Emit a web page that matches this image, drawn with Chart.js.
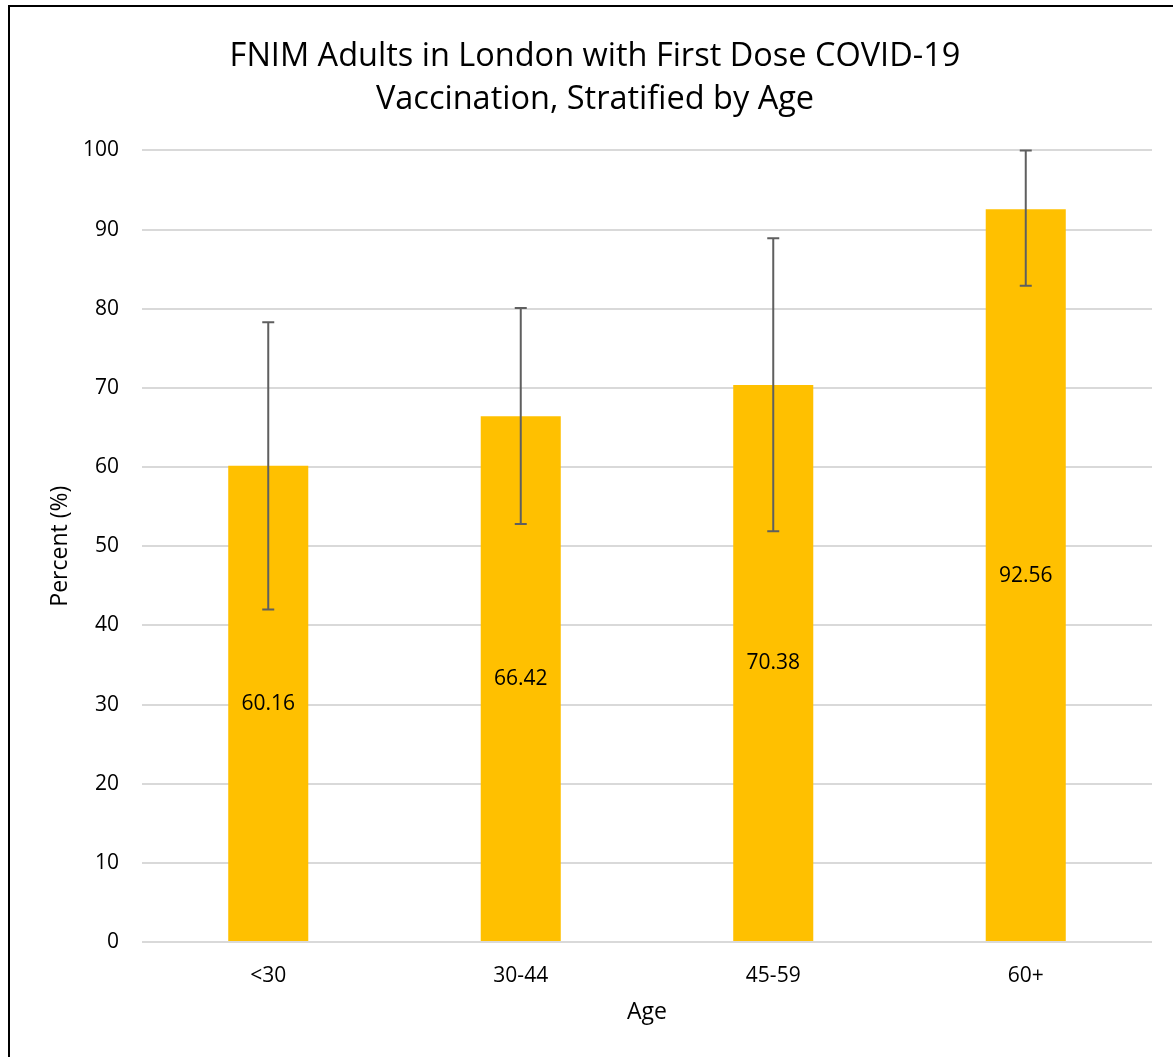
<!DOCTYPE html>
<html>
<head>
<meta charset="utf-8">
<script src="https://cdn.jsdelivr.net/npm/chart.js@4"></script>
<style>
    html, body { margin: 0; padding: 0; background: #fff; overflow: hidden; }
    #wrap { position: relative; width: 1173px; height: 1057px; }
    #frame { position: absolute; left: 8px; top: 5px; width: 1200px; height: 1100px; border: 2px solid #000; }
    #chart { position: absolute; left: 0; top: 0; }
</style>
</head>
<body>
<div id="wrap">
    <div id="frame"></div>
    <canvas id="chart" width="1173" height="1057"></canvas>
</div>
<script>
const ageGroups = ['<30', '30-44', '45-59', '60+'];
const percentVaccinated = [60.16, 66.42, 70.38, 92.56];
const lowerBound = [42.0, 52.8, 51.9, 82.9];
const upperBound = [78.3, 80.1, 88.9, 100];
const yTicks = [0, 10, 20, 30, 40, 50, 60, 70, 80, 90, 100];

const FONT = '"Open Sans", "Liberation Sans", sans-serif';

// error bars + value labels in the middle of the bar
const errorBarPlugin = {
    id: 'errorBars',
    afterDatasetsDraw(chart) {
        const ctx = chart.ctx;
        const y = chart.scales.y;
        const meta = chart.getDatasetMeta(0);
        ctx.save();
        ctx.strokeStyle = '#5f5f5f';
        ctx.lineWidth = 2;
        meta.data.forEach((bar, i) => {
            const cx = bar.x;
            const yLo = y.getPixelForValue(lowerBound[i]);
            const yHi = y.getPixelForValue(upperBound[i]);
            ctx.beginPath();
            ctx.moveTo(cx, yLo);
            ctx.lineTo(cx, yHi);
            ctx.moveTo(cx - 6, yLo);
            ctx.lineTo(cx + 6, yLo);
            ctx.moveTo(cx - 6, yHi);
            ctx.lineTo(cx + 6, yHi);
            ctx.stroke();
        });
        ctx.fillStyle = '#000';
        ctx.font = '21px ' + FONT;
        ctx.textAlign = 'center';
        ctx.textBaseline = 'middle';
        meta.data.forEach((bar, i) => {
            const mid = y.getPixelForValue(percentVaccinated[i] / 2);
            ctx.fillText(percentVaccinated[i].toFixed(2), bar.x, mid);
        });
        ctx.restore();
    }
};

new Chart(document.getElementById('chart'), {
    type: 'bar',
    data: {
        labels: ageGroups,
        datasets: [{
            data: percentVaccinated,
            backgroundColor: '#FFC000',
            borderWidth: 0,
            categoryPercentage: 1,
            barPercentage: 0.317
        }]
    },
    options: {
        responsive: false,
        animation: false,
        layout: { padding: { left: 38, right: 21, top: 0, bottom: 0 } },
        plugins: {
            legend: { display: false },
            tooltip: { enabled: false },
            title: {
                display: true,
                text: ['FNIM Adults in London with First Dose COVID-19', 'Vaccination, Stratified by Age'],
                color: '#000',
                font: { family: FONT, size: 32.5, weight: 'normal', lineHeight: 1.33 },
                padding: { top: 35, bottom: 29 }
            }
        },
        scales: {
            x: {
                grid: { display: false, drawTicks: false },
                border: { display: false },
                ticks: { color: '#000', font: { family: FONT, size: 21 }, padding: 21 },
                title: {
                    display: true,
                    text: 'Age',
                    color: '#000',
                    font: { family: FONT, size: 23 },
                    padding: { top: 0, bottom: 31 }
                },
                afterFit(scale) { scale.height = 115; }
            },
            y: {
                min: 0,
                max: 100,
                afterBuildTicks(scale) { scale.ticks = yTicks.map(v => ({ value: v })); },
                grid: { color: '#d9d9d9', lineWidth: 2, drawTicks: false },
                border: { display: false },
                ticks: { color: '#000', font: { family: FONT, size: 21 }, padding: 23 },
                title: {
                    display: true,
                    text: 'Percent (%)',
                    color: '#000',
                    font: { family: FONT, size: 23 },
                    padding: { top: 9, bottom: 0 }
                },
                afterFit(scale) { scale.width = 104; }
            }
        }
    },
    plugins: [errorBarPlugin]
});
</script>
</body>
</html>
